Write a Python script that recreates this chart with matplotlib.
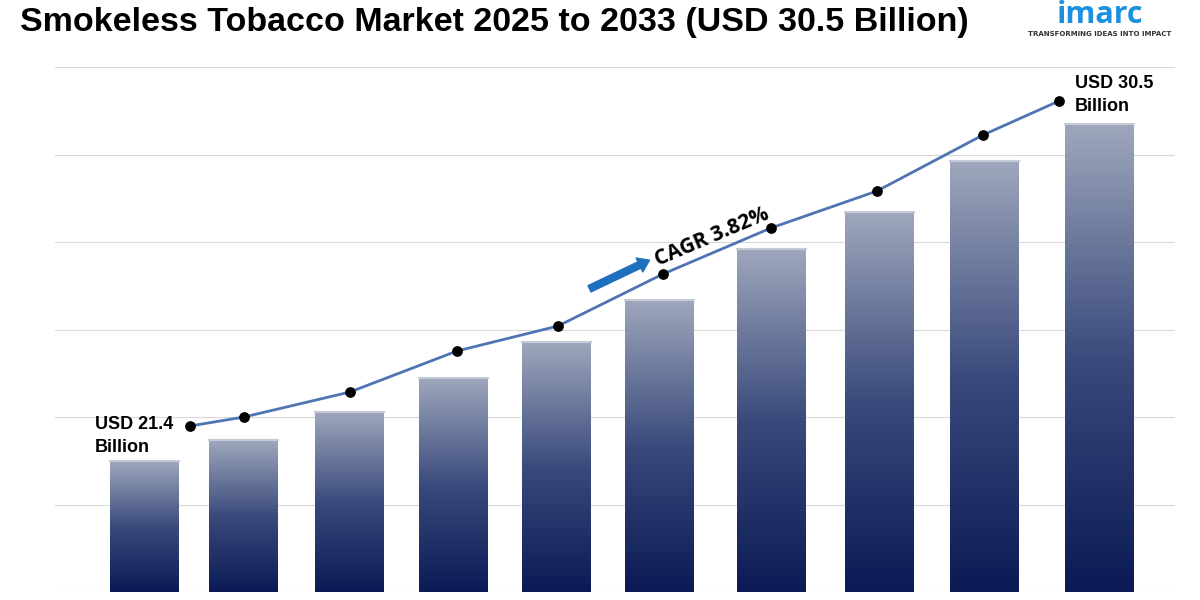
import numpy as np
import matplotlib.pyplot as plt
from matplotlib.colors import LinearSegmentedColormap

# bar centres / heights and trend line (relative units)
bar_pos = [144, 243, 349, 453, 556, 659, 771, 879, 984, 1099]
bar_vals = [131, 152, 180, 214, 250, 292, 343, 380, 431, 468]
line_x = [190, 244, 350, 457, 558, 663, 771, 877, 983, 1059]
line_y = [166, 175, 200, 241, 266, 318, 364, 401, 457, 491]

fig = plt.figure(figsize=(12, 6), dpi=100)
ax = fig.add_axes([55 / 1200, 8 / 600, 1120 / 1200, 525 / 600])
ax.set_xlim(55, 1175)
ax.set_ylim(0, 525)

for g in np.arange(0, 526, 87.5):
    ax.axhline(g, color='#d9d9d9', lw=0.8, zorder=0)

cmap = LinearSegmentedColormap.from_list('bar', ['#0b1a55', '#3a4a7c', '#9ea7bc'])
grad = np.linspace(0, 1, 256).reshape(-1, 1)
w = 69
for x, h in zip(bar_pos, bar_vals):
    ax.imshow(grad, cmap=cmap, aspect='auto', origin='lower',
              extent=(x - w / 2, x + w / 2, 0, h), zorder=1)
    ax.plot([x - w / 2, x + w / 2], [h, h], color='#c5cad6', lw=1.5, zorder=2)

ax.plot(line_x, line_y, color='#4f74b3', lw=2, zorder=3)
ax.scatter(line_x, line_y, color='black', s=45, zorder=4)

ax.text(95, 156, 'USD 21.4\nBillion', ha='left', va='center',
        fontsize=13, fontweight='bold', family='Liberation Sans', linespacing=1.5)
ax.text(1075, 497, 'USD 30.5\nBillion', ha='left', va='center',
        fontsize=13, fontweight='bold', family='Liberation Sans', linespacing=1.5)

ax.annotate('', xy=(652, 333), xytext=(587, 302),
            arrowprops=dict(arrowstyle='simple,head_width=1.1,head_length=0.8,tail_width=0.5',
                            color='#1f6fbf'), zorder=5)
ax.text(652, 355, 'CAGR 3.82%', rotation=23, ha='left', va='center',
        fontsize=15, fontweight='bold', family='Open Sans', zorder=5)

for s in ax.spines.values():
    s.set_visible(False)
ax.set_xticks([])
ax.set_yticks([])

fig.text(20 / 1200, 1 - 22 / 600, 'Smokeless Tobacco Market 2025 to 2033 (USD 30.5 Billion)',
         fontsize=24.5, fontweight='bold', family='Liberation Sans', va='center')
fig.text(1100 / 1200, 1 - 15 / 600, 'imarc', fontsize=22, fontweight='bold',
         color='#1b8fe0', ha='center', va='center', family='Open Sans')
fig.text(1100 / 1200, 1 - 34 / 600, 'TRANSFORMING IDEAS INTO IMPACT', fontsize=5,
         fontweight='bold', color='#333333', ha='center', va='center')

fig.savefig('out.png', dpi=100)
